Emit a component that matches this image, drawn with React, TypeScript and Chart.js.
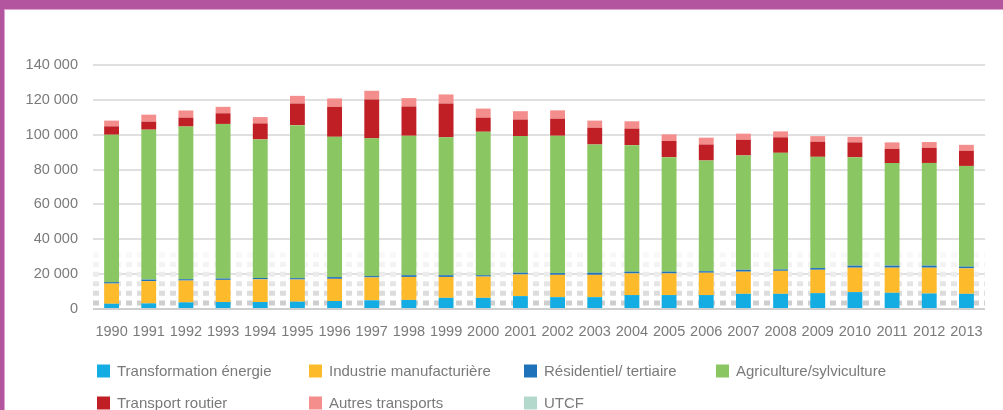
import React, { useEffect, useRef } from "react";
import { Chart, registerables } from "chart.js";

Chart.register(...registerables);

const years = ["1990","1991","1992","1993","1994","1995","1996","1997","1998","1999","2000","2001","2002","2003","2004","2005","2006","2007","2008","2009","2010","2011","2012","2013"];

const transformationEnergie = [3000,3200,3800,4000,4000,4200,4600,5000,5200,6400,6400,7400,6800,6800,8000,8000,8000,8700,8700,9100,9700,9300,8900,8700];
const industrieManufacturiere = [11600,12800,12500,12700,13000,12700,12700,13100,13200,12000,12200,12400,12800,12800,12400,12400,12800,12700,13200,13400,14000,14400,14800,14600];
const residentielTertiaire = [800,900,800,800,800,800,1000,800,1000,1000,800,1000,1000,1200,1000,1000,900,1100,800,1000,1200,1200,1200,1000];
const agricultureSylviculture = [84600,86000,87600,88700,79500,87800,80500,79000,80000,79100,82300,78400,78800,73600,72600,65700,63500,65600,66900,63800,62200,58800,58900,57800];
const transportRoutier = [4800,4600,5100,6100,9200,12400,17200,22300,16800,19400,8100,9500,9800,9600,9500,9300,9200,9000,8900,8700,8500,8200,8700,8700];
const autresTransports = [3300,4000,4100,3700,3600,4400,4800,5000,4800,5200,5200,4800,4800,4100,4200,3800,3900,3500,3400,3200,3200,3700,3300,3400];
const utcf = [0,0,0,0,0,0,0,0,0,0,0,0,0,0,0,0,0,0,0,0,0,0,0,0];

const yTicks = [0, 20000, 40000, 60000, 80000, 100000, 120000, 140000];
const patternValues = [3500, 9000, 14500, 20000, 25500, 31000];
const patternColors = ["#cecece", "#dcdcdc", "#e5e5e5", "#ececec", "#f3f3f3", "#f8f8f8"];

const FONT = "'Liberation Sans', Arial, sans-serif";
const TEXT_COLOR = "#7a7a7a";

const fmt = (v: number) => String(v).replace(/\B(?=(\d{3})+(?!\d))/g, " ");

const patternPlugin = {
  id: "bgPattern",
  beforeDatasetsDraw(chart: any) {
    const { ctx, chartArea, scales } = chart;
    ctx.save();
    ctx.lineWidth = 5;
    ctx.setLineDash([6, 5]);
    patternValues.forEach((v, i) => {
      const y = scales.y.getPixelForValue(v);
      ctx.strokeStyle = patternColors[i];
      ctx.beginPath();
      ctx.moveTo(chartArea.left, y);
      ctx.lineTo(chartArea.right, y);
      ctx.stroke();
    });
    ctx.restore();
  },
};

const gridLegendPlugin = {
  id: "gridLegend",
  afterDraw(chart: any, _args: any, opts: any) {
    const { ctx } = chart;
    const cols: number[] = opts.columns;
    const rows: number[] = opts.rows;
    ctx.save();
    ctx.font = `15px ${FONT}`;
    ctx.textBaseline = "middle";
    ctx.textAlign = "left";
    chart.data.datasets.forEach((ds: any, i: number) => {
      const x = cols[i % cols.length];
      const y = rows[Math.floor(i / cols.length)];
      ctx.fillStyle = ds.backgroundColor;
      ctx.fillRect(x, y - 6.5, 13, 13);
      ctx.fillStyle = TEXT_COLOR;
      ctx.fillText(ds.label, x + 20, y + 1);
    });
    ctx.restore();
  },
};

export default function App() {
  const ref = useRef<HTMLCanvasElement | null>(null);

  useEffect(() => {
    document.body.style.margin = "0";
    const canvas = ref.current;
    if (!canvas) return;
    const mk = (label: string, data: number[], color: string) => ({
      label,
      data,
      backgroundColor: color,
      borderWidth: 0,
      barPercentage: 0.4,
      categoryPercentage: 1,
    });
    const chart = new Chart(canvas, {
      type: "bar",
      data: {
        labels: years,
        datasets: [
          mk("Transformation énergie", transformationEnergie, "#13ADE3"),
          mk("Industrie manufacturière", industrieManufacturiere, "#FDBB2B"),
          mk("Résidentiel/ tertiaire", residentielTertiaire, "#1E72BA"),
          mk("Agriculture/sylviculture", agricultureSylviculture, "#8AC662"),
          mk("Transport routier", transportRoutier, "#C11F26"),
          mk("Autres transports", autresTransports, "#F48E8C"),
          mk("UTCF", utcf, "#B3D9CC"),
        ],
      },
      options: {
        animation: false,
        responsive: false,
        maintainAspectRatio: false,
        layout: { padding: { top: 65, left: 5, right: 18, bottom: 71 } },
        plugins: {
          legend: { display: false },
          tooltip: { enabled: false },
          gridLegend: { columns: [97, 309, 524, 716], rows: [371, 403] },
        } as any,
        scales: {
          x: {
            stacked: true,
            grid: { display: false },
            border: { display: false },
            ticks: {
              color: TEXT_COLOR,
              font: { family: FONT, size: 14.5 },
              padding: 6,
              maxRotation: 0,
              autoSkip: false,
            },
            afterFit: (s: any) => { s.height = 30; },
          },
          y: {
            stacked: true,
            min: 0,
            max: 140000,
            border: { display: false },
            grid: {
              drawTicks: false,
              lineWidth: 2,
              color: (c: any) => (c.tick && c.tick.value === 0 ? "#cfcfcf" : "#e0e0e0"),
            },
            afterBuildTicks: (s: any) => { s.ticks = yTicks.map((v) => ({ value: v })); },
            ticks: {
              color: TEXT_COLOR,
              font: { family: FONT, size: 14.5 },
              padding: 15,
              callback: (v: any) => fmt(Number(v)),
            },
            afterFit: (s: any) => { s.width = 88; },
          },
        },
      },
      plugins: [patternPlugin, gridLegendPlugin],
    });
    return () => chart.destroy();
  }, []);

  return (
    <div style={{ position: "relative", width: 1003, height: 410, background: "#fff", overflow: "hidden" }}>
      <canvas ref={ref} width={1003} height={410} style={{ position: "absolute", left: 0, top: 0, width: 1003, height: 410 }} />
      <div style={{ position: "absolute", left: 0, top: 0, width: 1003, height: 9, background: "#B4559F" }} />
      <div style={{ position: "absolute", left: 4, top: 9, width: 999, height: 1, background: "#DDA6D2" }} />
      <div style={{ position: "absolute", left: 0, top: 0, width: 4, height: 410, background: "#B4559F" }} />
      <div style={{ position: "absolute", left: 4, top: 9, width: 1, height: 401, background: "#DDA6D2" }} />
    </div>
  );
}
